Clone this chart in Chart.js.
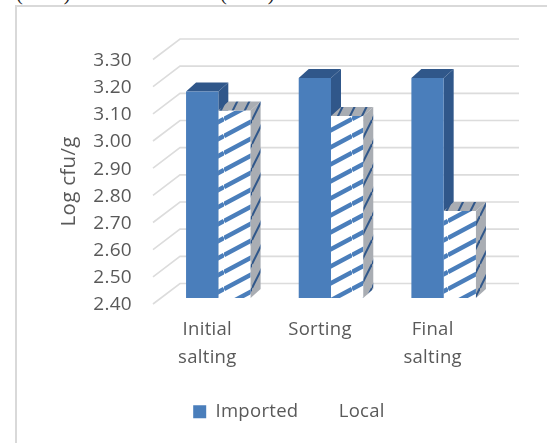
<!DOCTYPE html>
<html>
<head>
<meta charset="utf-8">
<style>
  html, body { margin: 0; padding: 0; background: #fff; overflow: hidden; }
  #wrap { position: relative; width: 547px; height: 443px; overflow: hidden; }
  #frame { position: absolute; left: 15px; top: 5px; width: 540px; height: 450px;
           border-left: 2px solid #d9d9d9; border-top: 2px solid #d9d9d9; box-sizing: border-box; }
  .cite { position: absolute; top: -18px; font: 20.5px/22px "Liberation Serif", serif; color: #222; }
  canvas { position: absolute; left: 0; top: 0; }
</style>
<script src="https://cdn.jsdelivr.net/npm/chart.js@4"></script>
</head>
<body>
<div id="wrap">
  <div class="cite" style="left:16px">(2018)</div>
  <div class="cite" style="left:220px">(2018)</div>
  <div id="frame"></div>
  <canvas id="barChart" width="547" height="443"></canvas>
</div>
<script>
var categories = [['Initial', 'salting'], ['Sorting'], ['Final', 'salting']];
var imported = [3.16, 3.21, 3.21];
var local = [3.09, 3.07, 2.72];
var yMin = 2.4;
var yMax = 3.3;
var yStep = 0.1;

var TEXT = '#595959';
var FONT = 'Open Sans';
var BLUE = '#4a7ebb';
var BLUE_DARK = '#30578a';
var GREY = '#a9adb3';
var DEPTH_X = 10;
var DEPTH_Y = 9;

// tile of diagonal stripes, repeated over a bar face
function stripes(bg, fg, w, h, lw) {
    var c = document.createElement('canvas');
    c.width = w;
    c.height = h;
    var g = c.getContext('2d');
    g.fillStyle = bg;
    g.fillRect(0, 0, w, h);
    g.strokeStyle = fg;
    g.lineWidth = lw;
    for (var k = -1; k <= 1; k++) {
        g.beginPath();
        g.moveTo(0, h + k * h);
        g.lineTo(w, k * h);
        g.stroke();
    }
    return g.createPattern(c, 'repeat');
}

var hatchFront = stripes('#ffffff', BLUE, 32, 17, 4.5);
var hatchSide = stripes(GREY, BLUE_DARK, 12, 24, 2);

function poly(ctx, pts, fill) {
    ctx.beginPath();
    ctx.moveTo(pts[0][0], pts[0][1]);
    for (var i = 1; i < pts.length; i++) {
        ctx.lineTo(pts[i][0], pts[i][1]);
    }
    ctx.closePath();
    ctx.fillStyle = fill;
    ctx.fill();
}

// top and side faces, from the bar element's own geometry
function extrude(chart, index, topFill, sideFill) {
    var ctx = chart.ctx;
    chart.getDatasetMeta(index).data.forEach(function (bar) {
        var l = bar.x - bar.width / 2;
        var r = bar.x + bar.width / 2;
        var top = bar.y;
        var base = bar.base;
        poly(ctx, [[l, top], [l + DEPTH_X, top - DEPTH_Y], [r + DEPTH_X, top - DEPTH_Y], [r, top]], topFill);
        poly(ctx, [[r, top], [r + DEPTH_X, top - DEPTH_Y], [r + DEPTH_X, base - DEPTH_Y], [r, base]], sideFill);
    });
}

var depthPlugin = {
    id: 'depth',
    beforeLayout: function (chart) {
        chart.ctx.letterSpacing = '0.3px';
    },
    // legend sits centred on the whole page, not on the plot
    afterLayout: function (chart) {
        chart.legend.left += 39;
        chart.legend.right += 39;
    },
    // back wall gridlines with the receding lines on their left, then the
    // Imported depth faces so the Local fronts land over them
    beforeDatasetsDraw: function (chart) {
        var ctx = chart.ctx;
        var y = chart.scales.y;
        ctx.save();
        ctx.strokeStyle = '#dcdcdc';
        ctx.lineWidth = 1.6;
        y.ticks.forEach(function (t) {
            var py = y.getPixelForValue(t.value);
            ctx.beginPath();
            ctx.moveTo(153, py + 6);
            ctx.lineTo(180, py - 14.5);
            ctx.lineTo(519, py - 14.5);
            ctx.stroke();
        });
        extrude(chart, 0, BLUE_DARK, BLUE_DARK);
        ctx.restore();
    },
    afterDatasetsDraw: function (chart) {
        extrude(chart, 1, hatchSide, hatchSide);
    }
};

new Chart(document.getElementById('barChart'), {
    type: 'bar',
    data: {
        labels: categories,
        datasets: [
            { label: 'Imported', data: imported, backgroundColor: BLUE, base: yMin },
            { label: 'Local', data: local, backgroundColor: hatchFront, base: yMin }
        ]
    },
    options: {
        responsive: false,
        animation: false,
        layout: { padding: { left: 0, right: 47, top: 53.5, bottom: 12 } },
        datasets: { bar: { categoryPercentage: 0.573, barPercentage: 1 } },
        scales: {
            x: {
                grid: { display: false, drawTicks: false },
                border: { display: false },
                afterFit: function (s) { s.height = 86.5; },
                ticks: {
                    color: TEXT,
                    font: { family: FONT, size: 18.5, lineHeight: 1.5 },
                    padding: 18,
                    labelOffset: -11,
                    maxRotation: 0,
                    autoSkip: false
                }
            },
            y: {
                min: yMin,
                max: yMax,
                grid: { display: false, drawTicks: false },
                border: { display: false },
                afterFit: function (s) { s.width = 162; },
                title: {
                    display: true,
                    text: 'Log cfu/g  ',
                    color: TEXT,
                    font: { family: FONT, size: 20.5 },
                    padding: { top: 57, bottom: 0 }
                },
                ticks: {
                    stepSize: yStep,
                    color: TEXT,
                    font: { family: FONT, size: 19 },
                    padding: 30,
                    labelOffset: 7,
                    callback: function (v) { return v.toFixed(2); }
                }
            }
        },
        plugins: {
            tooltip: { enabled: false },
            legend: {
                position: 'bottom',
                labels: {
                    color: TEXT,
                    font: { family: FONT, size: 18.5 },
                    boxWidth: 13,
                    boxHeight: 13,
                    padding: 18,
                    generateLabels: function (chart) {
                        return chart.data.datasets.map(function (d, i) {
                            return {
                                text: d.label,
                                fontColor: TEXT,
                                fillStyle: i === 0 ? BLUE : '#ffffff',
                                strokeStyle: 'rgba(0,0,0,0)',
                                lineWidth: 0,
                                datasetIndex: i
                            };
                        });
                    }
                }
            }
        }
    },
    plugins: [depthPlugin]
});
</script>
</body>
</html>
